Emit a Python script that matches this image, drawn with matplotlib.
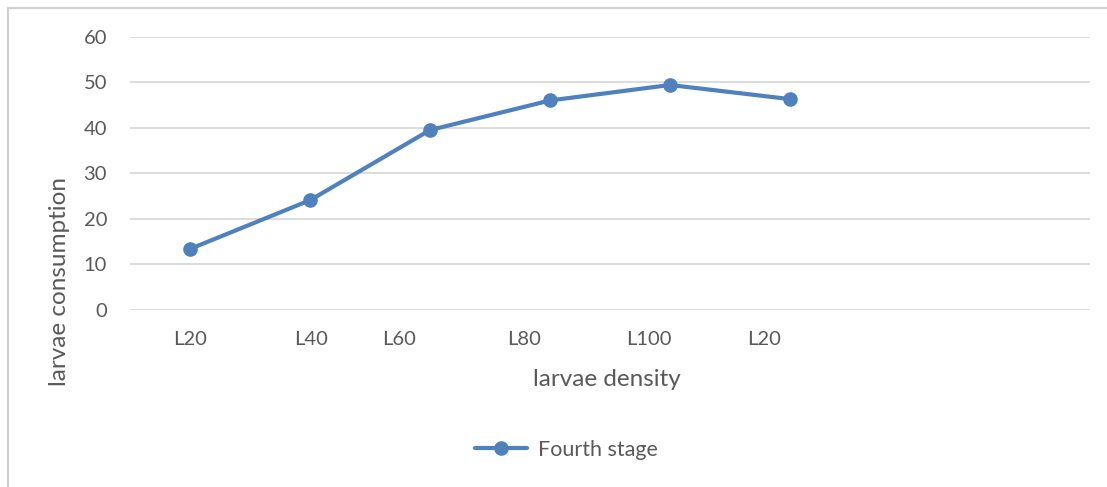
import matplotlib.pyplot as plt
from matplotlib.patches import Rectangle

# data
categories = ["L20", "L40", "L60", "L80", "L100", "L20"]
consumption = [13.4, 24.1, 39.5, 46.0, 49.4, 46.3]
y_ticks = [0, 10, 20, 30, 40, 50, 60]

# tick labels in the reference sit slightly off the category centres
label_offsets = [0.0, 0.01, -0.26, -0.22, -0.18, -0.22]

blue = "#4F81BD"
grey_text = "#595959"

plt.rcParams["font.family"] = ["Lato", "DejaVu Sans"]

W, H = 1107, 487
fig = plt.figure(figsize=(W / 100, H / 100), dpi=100)
ax = fig.add_axes([130 / W, 1 - 310 / H, 960 / W, (310 - 36.7) / H])

x = list(range(len(consumption)))
ax.plot(x, consumption, color=blue, linewidth=3, marker="o", markersize=9.5,
        label="Fourth stage", solid_capstyle="round")

ax.set_xlim(-0.5, 7.5)
ax.set_ylim(0, 60)
ax.set_yticks(y_ticks)
ax.set_xticks([i + off for i, off in zip(x, label_offsets)])
ax.set_xticklabels(categories)
ax.tick_params(axis="both", length=0, labelsize=14.5, colors=grey_text)
ax.tick_params(axis="x", pad=15)
ax.tick_params(axis="y", pad=16.5)
ax.grid(axis="y", color="#D9D9D9", linewidth=1.3)
ax.set_axisbelow(True)
for s in ax.spines.values():
    s.set_visible(False)

fig.text(607 / W, 1 - 380 / H, "larvae density", fontsize=17.5,
         color=grey_text, ha="center", va="center")
fig.text(59 / W, 1 - 282 / H, "larvae consumption", fontsize=17.5,
         color=grey_text, ha="center", va="center", rotation=90)

leg = fig.legend(loc="center", bbox_to_anchor=(566 / W, 1 - 450 / H),
                 frameon=False, fontsize=15.5, handlelength=2.46,
                 handletextpad=0.47)
for t in leg.get_texts():
    t.set_color(grey_text)

# chart border (only top and left visible in the crop)
fig.patches.append(Rectangle((8 / W, -0.1), 1.2, 1 - 8 / H + 0.1,
                             transform=fig.transFigure, fill=False,
                             edgecolor="#D0D0D0", linewidth=1.5))

fig.savefig("out.png", dpi=100)
